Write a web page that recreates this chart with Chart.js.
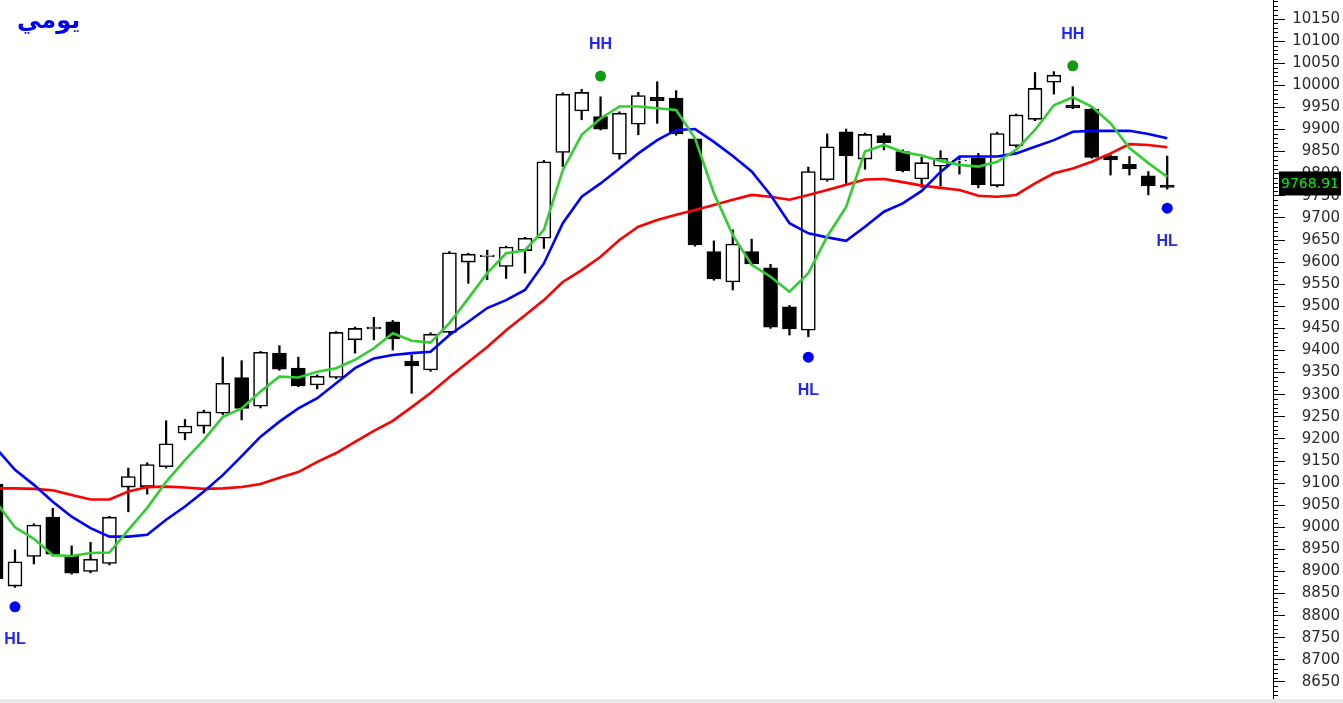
<!DOCTYPE html>
<html><head><meta charset="utf-8">
<script src="https://cdn.jsdelivr.net/npm/chart.js@4/dist/chart.umd.min.js"></script>
<style>
html,body{margin:0;padding:0;background:#fff;overflow:hidden}
#wrap{position:relative;width:1343px;height:703px;background:#fff}
#c{position:absolute;left:0;top:0}
#title{position:absolute;left:17px;top:6px;font:bold 24px 'DejaVu Sans',sans-serif;color:#0000ff;direction:rtl}
#strip{position:absolute;left:0;top:699px;width:1343px;height:4px;background:#e9e9e9}
</style></head><body>
<div id="wrap"><canvas id="c" width="1343" height="703"></canvas><div id="title">يومي</div><div id="strip"></div></div>
<script>
// ---- data ----
const opens  = [9098,8867,8934,9023,8935,8900,8918,9091,9092,9137,9213,9229,9258,9339,9274,9394,9360,9322,9339,9424,9449,9465,9376,9356,9441,9600,9612,9590,9626,9654,9848,9942,9929,9844,9912,9973,9971,9879,9624,9555,9624,9587,9499,9446,9786,9895,9833,9886,9850,9788,9817,9829,9835,9773,9863,9923,10007,9955,9946,9840,9821,9795,9774];
const highs  = [9105,8949,9008,9043,8958,8966,9025,9134,9146,9241,9244,9265,9385,9377,9398,9411,9385,9345,9443,9453,9475,9468,9390,9440,9624,9620,9627,9636,9656,9830,9983,9991,9974,9940,9984,10008,9988,9881,9648,9673,9652,9595,9502,9815,9890,9901,9892,9891,9854,9837,9852,9839,9846,9894,9935,10029,10031,9997,9948,9843,9839,9805,9840];
const lows   = [8875,8864,8917,8935,8894,8897,8915,9035,9075,9134,9198,9213,9255,9243,9270,9355,9318,9313,9336,9394,9424,9401,9303,9353,9438,9552,9560,9563,9575,9631,9816,9922,9899,9833,9888,9914,9887,9636,9559,9537,9593,9450,9435,9431,9783,9778,9810,9854,9804,9769,9772,9799,9768,9770,9860,9920,9980,9947,9835,9797,9797,9752,9765];
const closes = [8883,8922,9005,8939,8896,8928,9023,9115,9142,9189,9229,9261,9326,9269,9396,9358,9320,9342,9441,9450,9453,9426,9365,9437,9621,9618,9616,9634,9654,9827,9980,9984,9901,9937,9977,9965,9890,9639,9562,9641,9596,9453,9449,9805,9861,9840,9889,9870,9807,9825,9835,9831,9775,9891,9933,9993,10023,9949,9837,9831,9811,9773,9768.91];
const maGreen = [9057,9000,8974,8937,8935,8942,8943,8994,9044,9103,9152,9198,9250,9269,9307,9341,9339,9352,9360,9379,9405,9439,9422,9418,9462,9518,9575,9620,9627,9673,9808,9888,9925,9952,9952,9948,9944,9880,9756,9661,9594,9567,9533,9575,9658,9725,9850,9865,9849,9841,9829,9820,9816,9827,9854,9899,9955,9973,9952,9914,9858,9824,9793];
const maBlue  = [9179,9130,9096,9058,9024,8998,8979,8979,8983,9017,9047,9081,9118,9161,9205,9239,9269,9292,9326,9360,9382,9390,9394,9397,9435,9465,9496,9514,9537,9597,9688,9748,9778,9812,9846,9876,9899,9901,9872,9840,9805,9752,9688,9665,9656,9648,9680,9714,9733,9761,9804,9839,9839,9839,9846,9861,9876,9895,9897,9897,9897,9890,9880];
const maRed   = [9088,9088,9087,9084,9073,9063,9063,9081,9091,9092,9090,9087,9088,9091,9098,9112,9125,9148,9168,9193,9218,9241,9272,9304,9340,9374,9408,9446,9480,9514,9555,9582,9612,9650,9680,9695,9707,9718,9729,9741,9752,9748,9741,9752,9763,9775,9787,9788,9781,9773,9768,9763,9750,9748,9752,9778,9801,9812,9827,9846,9867,9865,9860];
const markerIdx    = [1, 32, 43, 57, 62];
const markerVals   = [8820, 10021, 9385, 10044, 9722];
const markerLabels = ['HL', 'HH', 'HL', 'HH', 'HL'];
const tickStep = 50;
const lastPrice = closes[closes.length - 1];

// ---- view window ----
const xMin = 0.2065, xMax = 67.6;
const yMin = 8613.8, yMax = 10193;

const idx = closes.map((_, i) => i);
const bodies = idx.map(i => ({x: i, y: [opens[i], closes[i]]}));
const wicks  = idx.map(i => ({x: i, y: [lows[i], highs[i]]}));
const asLine = arr => arr.map((v, i) => ({x: i, y: v}));
const markers = markerIdx.map((i, k) => ({x: i, y: markerVals[k]}));

const deco = {
  id: 'deco',
  afterDatasetsDraw(chart) {
    const ctx = chart.ctx;
    const meta = chart.getDatasetMeta(5);
    ctx.save();
    ctx.font = 'bold 16px "Liberation Sans", Arial, sans-serif';
    ctx.fillStyle = '#2626f2';
    ctx.textAlign = 'center';
    ctx.textBaseline = 'middle';
    meta.data.forEach((pt, k) => {
      const up = markerLabels[k] === 'HH';
      ctx.fillText(markerLabels[k], pt.x, pt.y + (up ? -31 : 33));
    });
    ctx.restore();
  },
  afterDraw(chart) {
    const ctx = chart.ctx, ys = chart.scales.y;
    const left = ys.left;
    ctx.save();
    ctx.strokeStyle = '#000';
    ctx.lineWidth = 1;
    ctx.beginPath();
    for (let v = Math.ceil(ys.min / 10) * 10; v <= ys.max; v += 10) {
      if (v % tickStep === 0) continue;
      const y = Math.round(ys.getPixelForValue(v)) + 0.5;
      ctx.moveTo(left, y);
      ctx.lineTo(left + 5, y);
    }
    ctx.stroke();
    const py = ys.getPixelForValue(lastPrice) - 4;
    ctx.fillStyle = '#000';
    ctx.fillRect(left + 6, py - 12, 62, 24);
    ctx.fillStyle = '#00ee00';
    ctx.font = '14px "DejaVu Sans", sans-serif';
    ctx.textAlign = 'center';
    ctx.textBaseline = 'middle';
    ctx.fillText(lastPrice.toFixed(2), left + 37, py + 1);
    ctx.restore();
  }
};

new Chart(document.getElementById('c'), {
  type: 'bar',
  data: {
    datasets: [
      {type: 'bar', label: 'wick', data: wicks, backgroundColor: '#000', borderWidth: 0, barThickness: 1.6, grouped: false, order: 6},
      {type: 'bar', label: 'body', data: bodies,
        backgroundColor: idx.map(i => closes[i] >= opens[i] ? '#fff' : '#000'),
        borderColor: '#000', borderWidth: 1.6, borderSkipped: false, barThickness: 14, grouped: false, order: 5},
      {type: 'line', label: 'red', data: asLine(maRed), borderColor: '#ff0000', borderWidth: 2.6, pointRadius: 0, tension: 0, order: 4},
      {type: 'line', label: 'blue', data: asLine(maBlue), borderColor: '#0000ff', borderWidth: 2.6, pointRadius: 0, tension: 0, order: 3},
      {type: 'line', label: 'green', data: asLine(maGreen), borderColor: '#33cc33', borderWidth: 2.6, pointRadius: 0, tension: 0, order: 2},
      {type: 'scatter', label: 'pivots', data: markers,
        backgroundColor: markerLabels.map(l => l === 'HH' ? '#119911' : '#0000ff'),
        pointRadius: 5.5, borderWidth: 0, order: 1}
    ]
  },
  options: {
    responsive: false,
    animation: false,
    devicePixelRatio: 1,
    layout: {autoPadding: false, padding: {left: 0, top: 0, right: 3, bottom: 5}},
    plugins: {legend: {display: false}, tooltip: {enabled: false}, title: {display: false}},
    scales: {
      x: {type: 'linear', min: xMin, max: xMax, display: false, offset: false},
      y: {
        type: 'linear', position: 'right', min: yMin, max: yMax,
        afterFit(s) { s.width = 67; s.paddingTop = 0; s.paddingBottom = 0; },
        border: {display: true, color: '#000', width: 1},
        grid: {drawOnChartArea: false, drawTicks: true, tickLength: 12, color: '#000', lineWidth: 1},
        ticks: {stepSize: tickStep, includeBounds: false, autoSkip: false, crossAlign: 'far', padding: 3,
          color: '#2a2a2a', font: {family: 'DejaVu Sans', size: 15}, callback: v => String(v)}
      }
    }
  },
  plugins: [deco]
});
</script>
</body></html>
